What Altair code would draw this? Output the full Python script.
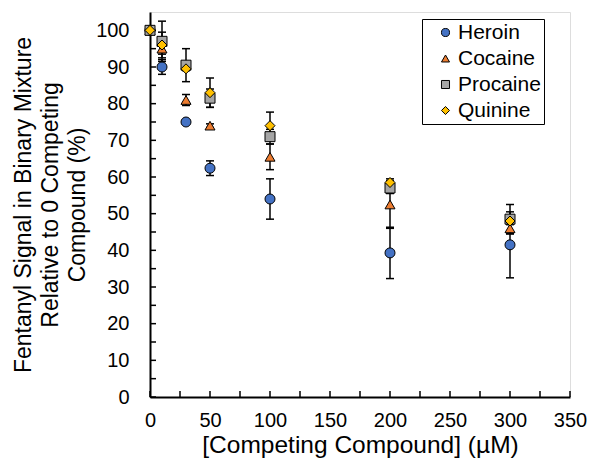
import altair as alt
import pandas as pd

conc = [0, 10, 30, 50, 100, 200, 300]
series = ["Heroin", "Cocaine", "Procaine", "Quinine"]
heroin = [100, 90, 75, 62.4, 54, 39.3, 41.5]
heroin_err = [0.5, 2, 0.5, 2, 5.5, 7, 9]
cocaine = [100, 95, 81, 74, 65.5, 52.5, 46]
cocaine_err = [0.5, 1.5, 1.5, 0.5, 3.5, 6.5, 1.5]
procaine = [100, 97, 90.5, 81.5, 71, 57, 48.5]
procaine_err = [0.5, 5.5, 4.5, 2.5, 2, 1.5, 4]
quinine = [100, 96, 89.5, 83, 74, 58.5, 48]
quinine_err = [0.5, 3.5, 0.5, 4, 3.7, 1, 1]

colors = ["#4472C4", "#ED7D31", "#A5A5A5", "#FFC000"]
shapes = ["circle", "triangle-up", "square", "diamond"]

rows = []
for name, vals, errs in zip(series, [heroin, cocaine, procaine, quinine],
                            [heroin_err, cocaine_err, procaine_err, quinine_err]):
    for c, v, e in zip(conc, vals, errs):
        rows.append({"series": name, "conc": c, "val": v, "lo": v - e, "hi": v + e})
df = pd.DataFrame(rows)

y_ticks = list(range(0, 105, 5))
x_ticks = list(range(0, 351, 25))

W, H = 420, 385
FONT = "Liberation Sans"

xscale = alt.Scale(domain=[0, 350], nice=False)
yscale = alt.Scale(domain=[0, 105], nice=False)

xaxis = alt.Axis(values=list(range(0, 351, 50)), ticks=False, grid=False,
                 domainColor="black", domainWidth=2, labelFontSize=20,
                 labelPadding=13, labelColor="black", labelFont=FONT,
                 labelOverlap=False, labelFlush=False,
                 title="[Competing Compound] (µM)", titleFontSize=24.5,
                 titleFont=FONT, titleFontWeight="normal", titleColor="black",
                 titlePadding=3)
yaxis = alt.Axis(values=list(range(0, 101, 10)), ticks=False, grid=False,
                 domainColor="black", domainWidth=2, labelFontSize=20,
                 labelPadding=21, labelColor="black", labelFont=FONT,
                 labelOverlap=False, labelFlush=False,
                 title=["Fentanyl Signal in Binary Mixture",
                        "Relative to 0 Competing", "Compound (%)"],
                 titleFontSize=23, titleFont=FONT, titleFontWeight="normal",
                 titleColor="black", titlePadding=6, titleLineHeight=27)

base = alt.Chart(df)

bars = base.mark_rule(color="black", strokeWidth=1.5).encode(
    x=alt.X("conc:Q", scale=xscale, axis=xaxis),
    y=alt.Y("lo:Q", scale=yscale, axis=yaxis),
    y2="hi:Q",
)
cap_lo = base.mark_rule(color="black", strokeWidth=1.5, xOffset=-4, x2Offset=4).encode(
    x=alt.X("conc:Q", scale=xscale, axis=xaxis),
    x2="conc:Q",
    y=alt.Y("lo:Q", scale=yscale, axis=yaxis),
)
cap_hi = base.mark_rule(color="black", strokeWidth=1.5, xOffset=-4, x2Offset=4).encode(
    x=alt.X("conc:Q", scale=xscale, axis=xaxis),
    x2="conc:Q",
    y=alt.Y("hi:Q", scale=yscale, axis=yaxis),
)

points = base.mark_point(filled=True, size=100, stroke="black", strokeWidth=1,
                         opacity=1).encode(
    x=alt.X("conc:Q", scale=xscale, axis=xaxis),
    y=alt.Y("val:Q", scale=yscale, axis=yaxis),
    color=alt.Color("series:N", sort=series,
                    scale=alt.Scale(domain=series, range=colors),
                    legend=alt.Legend(title=None, orient="none", legendX=272, legendY=7,
                                      strokeColor="black", fillColor="white",
                                      padding=3, labelFontSize=21, labelFont=FONT,
                                      labelColor="black", symbolSize=65,
                                      symbolOffset=10,
                                      symbolStrokeColor="black", symbolStrokeWidth=1,
                                      rowPadding=4, labelOffset=2, symbolOpacity=1)),
    shape=alt.Shape("series:N", sort=series,
                    scale=alt.Scale(domain=series, range=shapes)),
    order=alt.Order("ord:Q"),
).transform_calculate(
    ord="indexof(['Heroin','Cocaine','Procaine','Quinine'], datum.series)"
)

ytick_df = pd.DataFrame({"v": y_ticks})
xtick_df = pd.DataFrame({"v": x_ticks})

yt = alt.Chart(ytick_df).mark_rule(color="black", strokeWidth=1.5).encode(
    y=alt.Y("v:Q", scale=yscale, axis=yaxis), x=alt.value(0), x2=alt.value(6))
xt = alt.Chart(xtick_df).mark_rule(color="black", strokeWidth=1.5).encode(
    x=alt.X("v:Q", scale=xscale, axis=xaxis), y=alt.value(H), y2=alt.value(H - 6))

chart = alt.layer(bars, cap_lo, cap_hi, yt, xt, points).properties(
    width=W, height=H,
    autosize=alt.AutoSizeParams(type="none"),
    padding={"left": 142, "top": 4, "right": 18, "bottom": 65},
).configure_view(stroke="#404040", strokeWidth=1.5).configure(background="white")

chart.save("out.html", embed_options={"renderer": "svg", "actions": False})
